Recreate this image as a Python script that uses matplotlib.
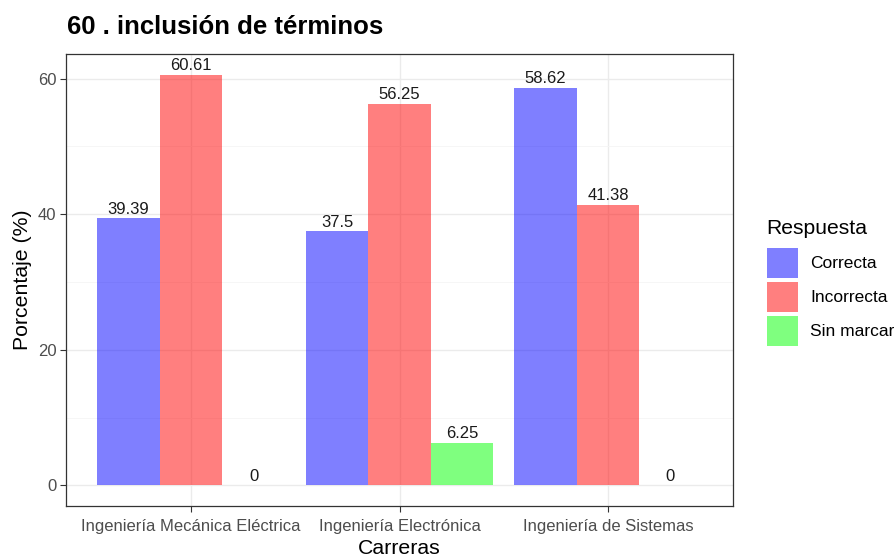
import matplotlib
matplotlib.use("Agg")
import matplotlib.pyplot as plt
from matplotlib.patches import Rectangle
import numpy as np

plt.rcParams['font.family'] = ['Liberation Sans', 'DejaVu Sans']

categories = ["Ingeniería Mecánica Eléctrica", "Ingeniería Electrónica", "Ingeniería de Sistemas"]
series = ["Correcta", "Incorrecta", "Sin marcar"]
correcta = [39.39, 37.5, 58.62]
incorrecta = [60.61, 56.25, 41.38]
sin_marcar = [0, 6.25, 0]
colors = ["#0000ff", "#ff0000", "#00ff00"]
yticks = [0, 20, 40, 60]

W, H = 894, 559
fig = plt.figure(figsize=(W/100, H/100), dpi=100)
L, R, T, B = 66, 733, 54, 506
ax = fig.add_axes([L/W, 1-B/H, (R-L)/W, (B-T)/H])

x = np.arange(1, len(categories)+1)
bw = 0.3
vals = [correcta, incorrecta, sin_marcar]
for i, (v, c) in enumerate(zip(vals, colors)):
    pos = x + (i-1)*bw
    ax.bar(pos, v, width=bw, color=c, alpha=0.5, linewidth=0, zorder=3)
    for p, val in zip(pos, v):
        lab = f"{val:g}"
        ax.text(p, val+0.25, lab, ha='center', va='bottom', fontsize=12, color='#1a1a1a', zorder=4)

ymax = max(max(correcta), max(incorrecta), max(sin_marcar))
ax.set_ylim(-0.05*ymax, ymax*1.05)
ax.set_xlim(0.4, 3.6)
ax.set_xticks(x)
ax.set_xticklabels(categories, fontsize=12, color='#4d4d4d')
ax.set_yticks(yticks)
ax.set_yticklabels([str(t) for t in yticks], fontsize=12, color='#4d4d4d')
ax.set_yticks([10, 30, 50], minor=True)
ax.grid(True, which='major', color='#ebebeb', linewidth=1.0, zorder=0)
ax.grid(True, which='minor', axis='y', color='#f5f5f5', linewidth=0.6, zorder=0)
ax.tick_params(which='major', length=4, color='#333333', width=0.8, pad=3)
ax.tick_params(axis='x', which='major', pad=5)
ax.tick_params(which='minor', length=0)
for s in ax.spines.values():
    s.set_color('#333333')
    s.set_linewidth(0.9)
ax.set_xlabel("Carreras", fontsize=15.3, color='black', labelpad=4)
ax.set_ylabel("Porcentaje (%)", fontsize=15.3, color='black', labelpad=4)

fig.text(67/W, 1-27/H, "60 . inclusión de términos", fontsize=18.5, fontweight='bold', va='center', ha='left')

# legend
fig.text(766/W, 1-228/H, "Respuesta", fontsize=15.2, va='center', ha='left')
for i, (s, c) in enumerate(zip(series, colors)):
    y0 = 248 + i*34
    fig.add_artist(Rectangle((767/W, 1-(y0+30)/H), 31/W, 30/H, transform=fig.transFigure,
                             facecolor=c, alpha=0.5, linewidth=0))
    fig.text(810/W, 1-(y0+15)/H, s, fontsize=12.5, va='center', ha='left')

fig.savefig("out.png", dpi=100)
